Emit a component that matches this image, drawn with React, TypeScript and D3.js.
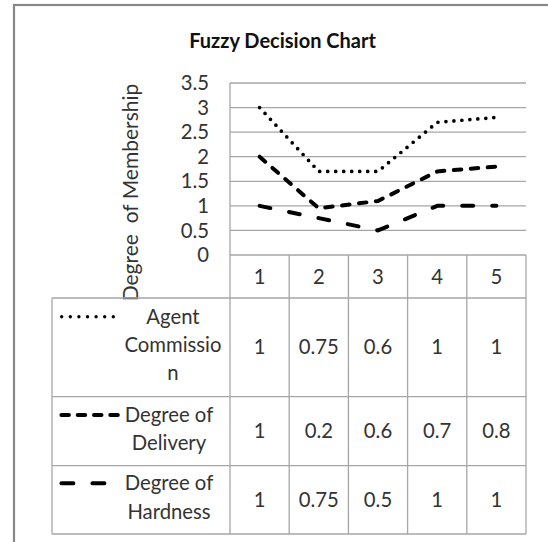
import React from 'react';
import * as d3 from 'd3';

const categories = ['1', '2', '3', '4', '5'];
const agentCommission = [1, 0.75, 0.6, 1, 1];
const degreeOfDelivery = [1, 0.2, 0.6, 0.7, 0.8];
const degreeOfHardness = [1, 0.75, 0.5, 1, 1];
const yTicks = [0, 0.5, 1, 1.5, 2, 2.5, 3, 3.5];
const seriesKeys = ['agent', 'delivery', 'hardness'];
const seriesLabels = [['Agent', 'Commissio', 'n'], ['Degree of', 'Delivery'], ['Degree of', 'Hardness']];
const seriesValues = [agentCommission, degreeOfDelivery, degreeOfHardness];
const stackOrder = ['hardness', 'delivery', 'agent'];

const W = 548, H = 542;
const FONT = 'Lato, "Noto Sans", sans-serif';
const TXT = '#333';
const GRID = '#a6a6a6';
const FS = 20.3;

const styles: Record<string, any> = {
  agent: { width: 3.7, dash: '0 8' },
  delivery: { width: 4, dash: '7.5 9.5' },
  hardness: { width: 4, dash: '11 19' },
};
const legendStyles: Record<string, any> = {
  agent: { width: 3.4, dash: '0 8.6', x0: 61.7, x1: 113.5 },
  delivery: { width: 4, dash: '7.5 8.8', x0: 61.4, x1: 118.6 },
  hardness: { width: 4, dash: '12 19', x0: 61.4, x1: 104.6 },
};

export default function App() {
  const x = d3.scaleBand<string>().domain(categories).range([230, 526]);
  const bw = x.bandwidth();
  const y = d3.scaleLinear().domain([0, 3.5]).range([255, 83]);

  const rows = categories.map((c, i) => ({
    cat: c,
    agent: agentCommission[i],
    delivery: degreeOfDelivery[i],
    hardness: degreeOfHardness[i],
  }));
  const stacked = d3.stack<any>().keys(stackOrder)(rows);
  const line = d3
    .line<any>()
    .x((d) => (x(d.data.cat) as number) + bw / 2)
    .y((d) => y(d[1]));

  const tableLeft = 52;
  const headerTop = 255;
  const rowEdges = [298, 396.7, 465.7, 534];
  const rowTextY = [
    [316.7, 345, 373.3],
    [415, 442.7],
    [483.3, 511.7],
  ];
  const rowValueY = [347, 431, 500];
  const labelCx = [173, 169, 169];

  return (
    <svg width={W} height={H} style={{ position: 'absolute', left: 0, top: 0 }} fontFamily={FONT}>
      <rect x={0} y={0} width={W} height={H} fill="#fff" />
      <rect x={14} y={5} width={620} height={620} fill="#fff" stroke="#888" strokeWidth={2.2} />
      <text x={282.5} y={48} textAnchor="middle" fontSize={20} fontWeight="bold" fill="#111">
        Fuzzy Decision Chart
      </text>

      {yTicks.map((t) => (
        <g key={t}>
          {t > 0 && <line x1={230} x2={526} y1={y(t)} y2={y(t)} stroke={GRID} strokeWidth={1.3} />}
          <text x={209} y={y(t)} dy="0.35em" textAnchor="end" fontSize={FS} fill={TXT}>
            {t}
          </text>
        </g>
      ))}

      <text
        transform="translate(131,192.5) rotate(-90)"
        textAnchor="middle"
        dy="0.35em"
        fontSize={21}
        fill={TXT}
        style={{ whiteSpace: 'pre' }}
      >
        {'Degree  of Membership'}
      </text>

      {/* table grid */}
      <line x1={230} x2={526} y1={headerTop} y2={headerTop} stroke={GRID} strokeWidth={1.3} />
      {rowEdges.map((e) => (
        <line key={e} x1={tableLeft} x2={526} y1={e} y2={e} stroke={GRID} strokeWidth={1.3} />
      ))}
      <line x1={230} x2={230} y1={83} y2={534} stroke={GRID} strokeWidth={1.3} />
      <line x1={tableLeft} x2={tableLeft} y1={298} y2={534} stroke={GRID} strokeWidth={1.3} />
      {categories.map((c) => (
        <line
          key={'v' + c}
          x1={(x(c) as number) + bw}
          x2={(x(c) as number) + bw}
          y1={headerTop}
          y2={534}
          stroke={GRID}
          strokeWidth={1.3}
        />
      ))}
      {categories.map((c) => (
        <text key={'h' + c} x={(x(c) as number) + bw / 2} y={276.5} dy="0.35em" textAnchor="middle" fontSize={FS} fill={TXT}>
          {c}
        </text>
      ))}

      {seriesKeys.map((k, si) => (
        <g key={k}>
          <line
            x1={legendStyles[k].x0}
            x2={legendStyles[k].x1}
            y1={rowTextY[si][0]}
            y2={rowTextY[si][0]}
            stroke="#000"
            strokeWidth={legendStyles[k].width}
            strokeDasharray={legendStyles[k].dash}
            strokeLinecap="round"
          />
          {seriesLabels[si].map((s, li) => (
            <text key={li} x={labelCx[si]} y={rowTextY[si][li]} dy="0.35em" textAnchor="middle" fontSize={FS} fill={TXT}>
              {s}
            </text>
          ))}
          {seriesValues[si].map((v, ci) => (
            <text
              key={ci}
              x={(x(categories[ci]) as number) + bw / 2}
              y={rowValueY[si]}
              dy="0.35em"
              textAnchor="middle"
              fontSize={FS}
              fill={TXT}
            >
              {v}
            </text>
          ))}
        </g>
      ))}

      {stacked.map((s) => (
        <path
          key={s.key}
          d={line(s as any) || ''}
          fill="none"
          stroke="#000"
          strokeWidth={styles[s.key].width}
          strokeDasharray={styles[s.key].dash}
          strokeLinecap="round"
          strokeLinejoin="round"
        />
      ))}
    </svg>
  );
}
